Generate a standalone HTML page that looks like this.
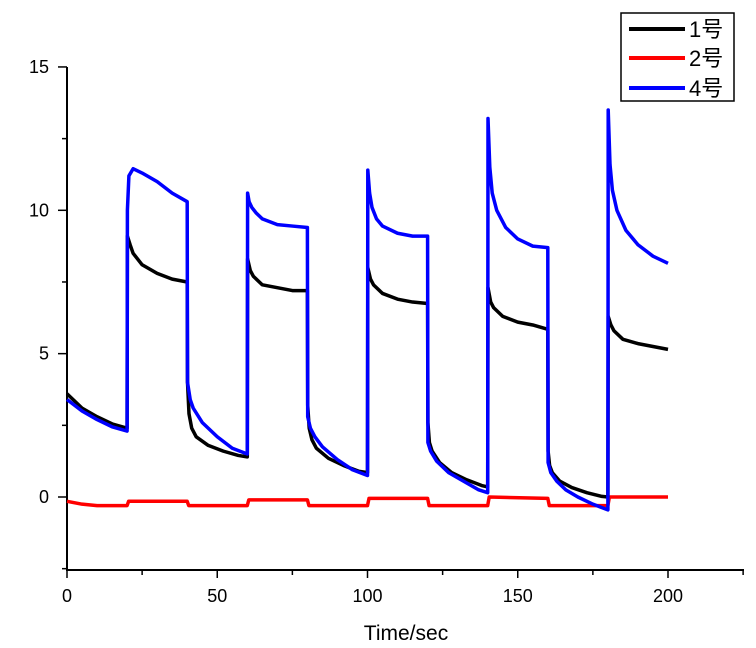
<!DOCTYPE html>
<html><head><meta charset="utf-8"><style>
body{margin:0;background:#fff;}
svg{display:block;font-family:"Liberation Sans","Noto Sans CJK SC",sans-serif;}
</style></head><body>
<svg id="chart" width="756" height="648" viewBox="0 0 756 648" xmlns="http://www.w3.org/2000/svg">
<g id="axes"></g>
<g id="series"></g>
<text x="406" y="640" text-anchor="middle" font-size="21">Time/sec</text>
<g>
<rect x="621" y="13" width="113" height="88" fill="#fff" stroke="#000" stroke-width="1.5"/>
<g><line x1="629" y1="29" x2="685" y2="29" stroke="#000" stroke-width="4"/><text x="689" y="37" font-size="22">1号</text></g>
<g><line x1="629" y1="58" x2="685" y2="58" stroke="#f00" stroke-width="4"/><text x="689" y="66" font-size="22">2号</text></g>
<g><line x1="629" y1="88" x2="685" y2="88" stroke="#00f" stroke-width="4"/><text x="689" y="96" font-size="22">4号</text></g>
</g>
</svg>
<script>
const xTicks=[0,50,100,150,200];
const yTicks=[0,5,10,15];
const t1=[0,5,10,15,20,20.1,21,22,25,30,35,40,40.1,40.6,41.5,43,47,52,57,60,60.1,61,62,65,70,75,80,80.1,80.6,81.5,83,87,92,97,100,100.1,101,102,105,110,115,120,120.1,120.6,121.5,124,128,133,138,140,140.1,141,142,145,150,155,160,160.1,160.6,161.5,164,168,173,178,180,180.1,181,182,185,190,195,200];
const v1=[3.6,3.1,2.8,2.55,2.4,9.1,8.8,8.5,8.1,7.8,7.6,7.5,4.0,2.9,2.4,2.1,1.8,1.6,1.45,1.4,8.3,7.9,7.7,7.4,7.3,7.2,7.2,3.2,2.4,2.0,1.7,1.35,1.1,0.9,0.85,8.0,7.6,7.4,7.1,6.9,6.8,6.75,2.6,1.9,1.6,1.2,0.85,0.6,0.4,0.35,7.3,6.8,6.6,6.3,6.1,6.0,5.85,1.6,1.1,0.85,0.55,0.33,0.15,0.02,0.0,6.3,6.0,5.8,5.5,5.35,5.25,5.15];
const t4=[0,5,10,15,20,20.1,20.6,22,25,30,35,40,40.1,41,42,45,50,55,60,60.1,60.6,61.5,63,65,70,75,80,80.1,81,82.5,85,90,95,100,100.1,100.7,101.5,103,105,110,115,120,120.1,121,123,127,132,137,140,140.1,140.7,141.5,143,146,150,155,160,160.1,161,163,166,170,175,180,180.1,180.7,181.5,183,186,190,195,200];
const v4=[3.4,3.0,2.7,2.45,2.3,10.0,11.2,11.45,11.3,11.0,10.6,10.3,4.0,3.4,3.1,2.6,2.1,1.7,1.5,10.6,10.3,10.1,9.9,9.7,9.5,9.45,9.4,2.8,2.4,2.1,1.75,1.3,0.95,0.75,11.4,10.6,10.1,9.7,9.45,9.2,9.1,9.1,1.9,1.6,1.25,0.85,0.55,0.25,0.15,13.2,11.5,10.6,10.0,9.4,9.0,8.75,8.7,1.2,0.85,0.55,0.25,0.0,-0.25,-0.45,13.5,11.6,10.7,10.0,9.3,8.8,8.4,8.15];
const t2=[0,5,10,20,20.5,40,40.5,60,60.5,80,80.5,100,100.5,120,120.5,140,140.5,160,160.5,180,180.5,200];
const v2=[-0.15,-0.25,-0.3,-0.3,-0.15,-0.15,-0.3,-0.3,-0.1,-0.1,-0.3,-0.3,-0.05,-0.05,-0.3,-0.3,0.0,-0.05,-0.3,-0.3,0.0,0.0];
const X=t=>67+t*3.005;
const Y=v=>497-v*28.67;
const NS="http://www.w3.org/2000/svg";
const ax=document.getElementById('axes');
function mk(tag,attrs,parent){const e=document.createElementNS(NS,tag);for(const k in attrs)e.setAttribute(k,attrs[k]);parent.appendChild(e);return e;}
let l=mk('line',{x1:67,y1:67,x2:67,y2:571,stroke:'#000','stroke-width':2},ax);


l=mk('line',{x1:66,y1:570,x2:744,y2:570,stroke:'#000','stroke-width':2},ax);


for(let t=0;t<=225;t+=25){const major=t%50===0;const tk=mk('line',{x1:X(t),y1:570,x2:X(t),y2:570+(major?8:5),stroke:'#000','stroke-width':1.5},ax);

}
xTicks.forEach(t=>{const tx=mk('text',{x:X(t),y:602,'text-anchor':'middle','font-size':18},ax);tx.textContent=t;

});
for(let v=-2.5;v<=15;v+=2.5){const major=v%5===0;const tk=mk('line',{x1:67-(major?9:5),y1:Y(v),x2:67,y2:Y(v),stroke:'#000','stroke-width':1.5},ax);

}
yTicks.forEach(v=>{const tx=mk('text',{x:49,y:Y(v)+6,'text-anchor':'end','font-size':18},ax);tx.textContent=v;

});
const sg=document.getElementById('series');
function line(ts,vs,col,name){const p=mk('polyline',{points:ts.map((t,i)=>X(t)+','+Y(vs[i])).join(' '),fill:'none',stroke:col,'stroke-width':3.5,'stroke-linejoin':'round'},sg);

}
line(t2,v2,'#f00','series-2');
line(t1,v1,'#000','series-1');
line(t4,v4,'#00f','series-4');
</script>
</body></html>
